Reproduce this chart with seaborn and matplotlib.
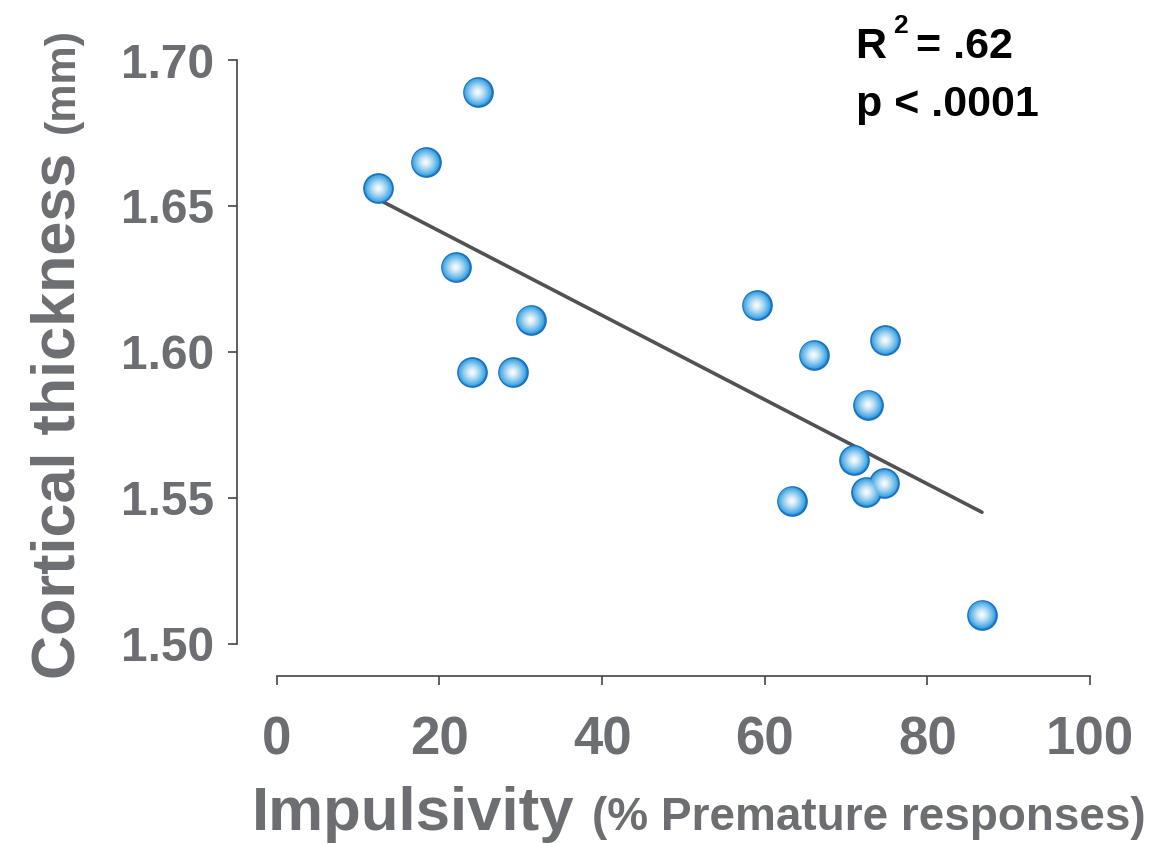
import matplotlib
matplotlib.use("Agg")
import matplotlib.pyplot as plt
import seaborn as sns
import numpy as np
import pandas as pd
from matplotlib.colors import to_rgb

impulsivity = [12.5, 18.3, 24.7, 22.0, 31.2, 24.0, 29.0, 59.0, 66.0, 74.8,
               72.7, 71.0, 72.5, 74.7, 63.3, 86.7]
thickness = [1.656, 1.665, 1.689, 1.629, 1.611, 1.593, 1.593, 1.616, 1.599, 1.604,
             1.582, 1.563, 1.552, 1.555, 1.549, 1.510]
x_ticks = [0, 20, 40, 60, 80, 100]
y_ticks = [1.50, 1.55, 1.60, 1.65, 1.70]
y_tick_labels = ["1.50", "1.55", "1.60", "1.65", "1.70"]

df = pd.DataFrame({"impulsivity": impulsivity, "thickness": thickness})

sns.set_style("ticks")
plt.rcParams["font.family"] = ["Liberation Sans", "DejaVu Sans"]
grey = "#6d6e71"

fig = plt.figure(figsize=(11.76, 8.44), dpi=100)
ax = fig.add_axes([0.2015, 0.199, 0.927 - 0.2015, 0.9289 - 0.199])

sns.regplot(data=df, x="impulsivity", y="thickness", ax=ax, ci=None, scatter=False,
            truncate=True, line_kws=dict(color="#525256", lw=2.6, zorder=2))

# bubble markers with a radial gradient built from stacked layers
base_s = 420
sns.scatterplot(data=df, x="impulsivity", y="thickness", ax=ax, s=base_s,
                color="#2f9ee0", edgecolor="#1b72c2", linewidth=1.6, zorder=3)
blue = np.array(to_rgb("#2f9ee0"))
white = np.array([1.0, 1.0, 1.0])
n_layers = 18
for i in range(1, n_layers):
    r = 1 - i / n_layers
    t = r ** 1.3
    col = white * (1 - t) + blue * t
    sns.scatterplot(data=df, x="impulsivity", y="thickness", ax=ax, s=base_s * r * r,
                    color=tuple(col), edgecolor="none", linewidth=0, zorder=4 + i)

ax.set_xlim(-4.9, 100)
ax.set_ylim(1.489, 1.70)
ax.set_xticks(x_ticks)
ax.set_yticks(y_ticks)
ax.set_yticklabels(y_tick_labels)
for sp in ["top", "right"]:
    ax.spines[sp].set_visible(False)
ax.spines["left"].set_bounds(1.50, 1.70)
ax.spines["bottom"].set_bounds(0, 100)
for sp in ["left", "bottom"]:
    ax.spines[sp].set_color("#444444")
    ax.spines[sp].set_linewidth(1.2)
ax.tick_params(axis="both", direction="out", length=6.5, width=1.2, color="#444444",
               labelcolor=grey, bottom=True, left=True)
ax.tick_params(axis="x", pad=22, labelsize=38)
ax.tick_params(axis="y", pad=10, labelsize=34.5)
for lab in ax.get_xticklabels() + ax.get_yticklabels():
    lab.set_fontweight("bold")
ax.set_xlabel("")
ax.set_ylabel("")

fig.text(0.214, 0.017, "Impulsivity", fontsize=44.5, fontweight="bold", color=grey,
         ha="left", va="baseline")
fig.text(0.503, 0.017, "(% Premature responses)", fontsize=33, fontweight="bold", color=grey,
         ha="left", va="baseline")
fig.text(0.0632, 0.196, "Cortical thickness", fontsize=44, fontweight="bold", color=grey,
         rotation=90, rotation_mode="anchor", ha="left", va="baseline")
fig.text(0.0632, 0.843, "(mm)", fontsize=31, fontweight="bold", color=grey,
         rotation=90, rotation_mode="anchor", ha="left", va="baseline")

fig.text(855 / 1176, 1 - 58 / 844, "R", fontsize=31, fontweight="bold", color="black",
         ha="left", va="baseline")
fig.text(893 / 1176, 1 - 33 / 844, "2", fontsize=19, fontweight="bold", color="black",
         ha="left", va="baseline")
fig.text(916 / 1176, 1 - 58 / 844, "= .62", fontsize=31, fontweight="bold", color="black",
         ha="left", va="baseline")
fig.text(856 / 1176, 1 - 116 / 844, "p < .0001", fontsize=31, fontweight="bold", color="black",
         ha="left", va="baseline")

fig.savefig("out.png", dpi=100)
